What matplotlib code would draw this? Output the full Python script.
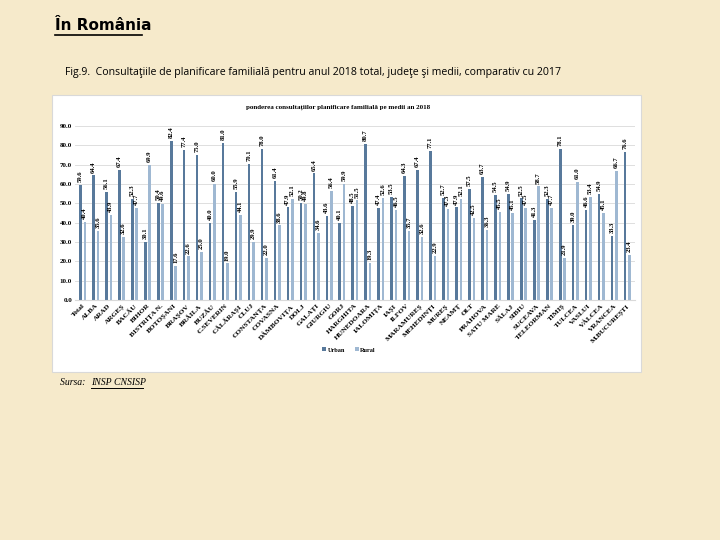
import numpy as np
import matplotlib
matplotlib.use("Agg")
import matplotlib.pyplot as plt

# counties, in the order of the chart
judete = ["Total", "ALBA", "ARAD", "ARGEȘ", "BACĂU", "BIHOR", "BISTRIȚA N.", "BOTOȘANI",
          "BRAȘOV", "BRĂILA", "BUZĂU", "C.SEVERIN", "CĂLĂRAȘI", "CLUJ", "CONSTANȚA",
          "COVASNA", "DÂMBOVIȚA", "DOLJ", "GALAȚI", "GIURGIU", "GORJ", "HARGHITA",
          "HUNEDOARA", "IALOMIȚA", "IAȘI", "ILFOV", "MARAMUREȘ", "MEHEDINȚI", "MUREȘ",
          "NEAMȚ", "OLT", "PRAHOVA", "SATU MARE", "SĂLAJ", "SIBIU", "SUCEAVA",
          "TELEORMAN", "TIMIȘ", "TULCEA", "VASLUI", "VÂLCEA", "VRANCEA", "M.BUCUREȘTI"]

urban = [59.6, 64.4, 56.1, 67.4, 52.3, 30.1, 50.4, 82.4, 77.4, 75.0, 40.0, 81.0, 55.9,
         70.1, 78.0, 61.4, 47.9, 50.2, 65.4, 43.6, 40.1, 48.5, 80.7, 47.4, 53.5, 64.3,
         67.4, 77.1, 52.7, 47.9, 57.5, 63.7, 54.5, 54.9, 52.5, 41.3, 52.3, 78.1, 39.0,
         46.6, 54.9, 33.3, 76.6]

rural = [40.4, 35.6, 43.9, 32.6, 47.7, 69.9, 49.6, 17.6, 22.6, 25.0, 60.0, 19.0, 44.1,
         29.9, 22.0, 38.6, 52.1, 49.8, 34.6, 56.4, 59.9, 51.5, 19.3, 52.6, 46.5, 35.7,
         32.6, 22.9, 47.3, 52.1, 42.5, 36.3, 45.5, 45.1, 47.5, 58.7, 47.7, 21.9, 61.0,
         53.4, 45.1, 66.7, 23.4]

bg = "#f6eacb"
c_urban = "#58799b"
c_rural = "#9fb8d2"
serif = "Liberation Serif"

fig = plt.figure(figsize=(7.2, 5.4), dpi=100, facecolor=bg)

# page headings
fig.text(0.077, 0.952, "În România", fontsize=11, fontweight="bold",
         family="DejaVu Sans", ha="left", va="center")
fig.add_artist(plt.Line2D([0.077, 0.197], [0.935, 0.935], color="black", lw=1.2))
fig.text(0.09, 0.866, "Fig.9.  Consultaţiile de planificare familială pentru anul 2018 total, judeţe şi medii, "
         "comparativ cu 2017", fontsize=7.6, family="Open Sans", ha="left", va="center")

# white chart panel
panel = plt.Rectangle((0.072, 0.312), 0.818, 0.512, transform=fig.transFigure,
                      facecolor="white", edgecolor="#d9d9d9", lw=0.8, zorder=0)
fig.add_artist(panel)
fig.text(0.47, 0.802, "ponderea consultațiilor planificare familială pe medii an 2018",
         fontsize=5, fontweight="bold", family=serif, ha="center", va="center")

ax = fig.add_axes([0.104, 0.444, 0.778, 0.323])
ax.set_zorder(2)
ax.set_facecolor("white")

x = np.arange(len(judete))
w = 0.2
b1 = ax.bar(x - 0.17, urban, w, color=c_urban, label="Urban")
b2 = ax.bar(x + 0.17, rural, w, color=c_rural, label="Rural")

for bars in (b1, b2):
    for r in bars:
        ax.text(r.get_x() + r.get_width() / 2, r.get_height() + 1.5, f"{r.get_height():.1f}",
                rotation=90, ha="center", va="bottom", fontsize=4.8,
                fontweight="bold", family=serif)

ax.set_ylim(0, 90)
ax.set_xlim(-0.6, len(judete) - 0.4)
ax.set_yticks(np.arange(0, 91, 10))
ax.set_yticklabels([f"{v:.1f}" for v in np.arange(0, 91, 10)], fontsize=5,
                   fontweight="bold", family=serif)
ax.yaxis.grid(True, color="#d9d9d9", lw=0.6)
ax.set_axisbelow(True)
ax.tick_params(axis="both", length=0, pad=2)
ax.set_xticks(x)
ax.set_xticklabels(judete, rotation=45, ha="right", rotation_mode="anchor",
                   fontsize=5.3, fontweight="bold", family=serif)
for s in ["top", "right", "left"]:
    ax.spines[s].set_visible(False)
ax.spines["bottom"].set_color("#d9d9d9")

leg = fig.legend(handles=[b1, b2], labels=["Urban", "Rural"], loc="center",
                 bbox_to_anchor=(0.485, 0.352), ncol=2, frameon=False,
                 prop={"family": serif, "size": 4.5, "weight": "bold"},
                 handlelength=0.6, handleheight=0.6, columnspacing=1.5, handletextpad=0.3)
leg.set_zorder(3)

# source note
fig.text(0.083, 0.292, "Sursa: ", fontsize=7, style="italic", family=serif, ha="left", va="center")
fig.text(0.127, 0.292, "INSP CNSISP", fontsize=7, style="italic", family=serif, ha="left", va="center")
fig.add_artist(plt.Line2D([0.127, 0.198], [0.281, 0.281], color="black", lw=0.7))

fig.savefig("out.png", dpi=100, facecolor=bg)
